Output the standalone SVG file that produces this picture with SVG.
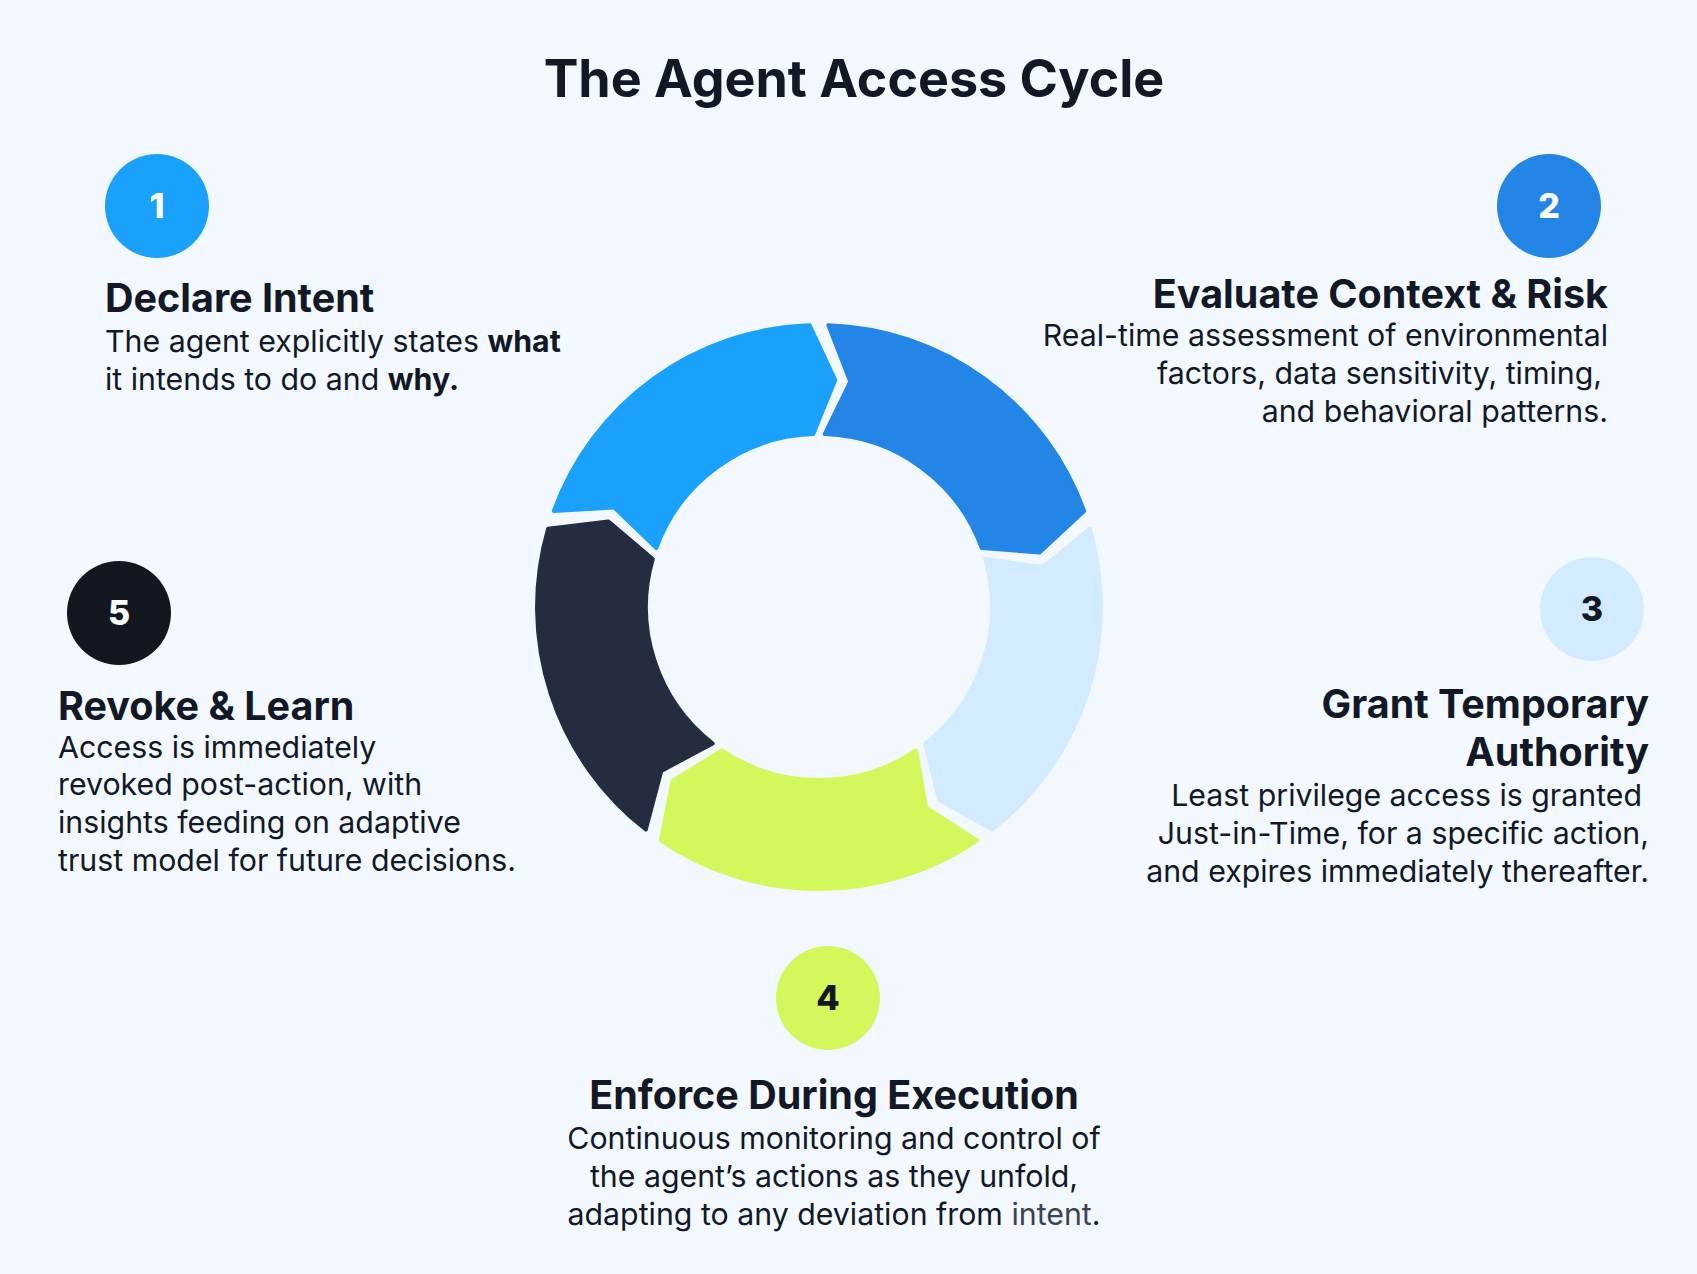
<svg xmlns="http://www.w3.org/2000/svg" width="1697" height="1274" viewBox="0 0 1697 1274">
<style>
.t{font-family:Inter,"Open Sans",sans-serif;fill:#121826}
.h{font-size:39.5px;font-weight:700}
.b{font-size:30.3px;font-weight:400}
.n{font-family:Inter,sans-serif;font-size:34px;font-weight:800;text-anchor:middle}
.seg{stroke-linejoin:round;stroke-width:4}
</style>
<rect width="1697" height="1274" fill="#F3F8FE"/>
<text class="t" x="854" y="97" text-anchor="middle" font-size="52" font-weight="700">The Agent Access Cycle</text>
<g id="cycle">
<path id="seg1" class="seg" fill="#1AA1FB" stroke="#1AA1FB" d="M553.8,511 A282,282 0 0 1 809.6,325.2 L835.3,380.1 L813.3,434.1 A173,173 0 0 0 656.3,548.1 L614.3,507.6 Z"/>
<path id="seg2" class="seg" fill="#2386E6" stroke="#2386E6" d="M828.4,325.2 A282,282 0 0 1 1084.2,511 L1039.8,552.4 L981.7,548.1 A173,173 0 0 0 824.7,434.1 L850.3,381.7 Z"/>
<path id="seg3" class="seg" fill="#D2EBFE" stroke="#D2EBFE" d="M1089.9,528.8 A282,282 0 0 1 992.2,829.5 L939.2,800.1 L925.3,743.5 A173,173 0 0 0 985.2,559 L1043,567.1 Z"/>
<path id="seg4" class="seg" fill="#D4F85B" stroke="#D4F85B" d="M977.1,840.5 A282,282 0 0 1 660.9,840.5 L672.5,781 L722,750.3 A173,173 0 0 0 916,750.3 L926.2,807.7 Z"/>
<path id="seg5" class="seg" fill="#232D3F" stroke="#232D3F" d="M645.8,829.5 A282,282 0 0 1 548.1,528.8 L608.2,521.4 L652.8,559 A173,173 0 0 0 712.7,743.5 L661.3,770.9 Z"/>
</g>
<g id="n1"><circle cx="157" cy="206" r="52" fill="#1AA1FB"/><text class="n" x="157" y="218" fill="#fff">1</text>
<text class="t h" x="105" y="312">Declare Intent</text>
<text class="t b" x="105" y="352">The agent explicitly states <tspan font-weight="700">what</tspan></text>
<text class="t b" x="105" y="390">it intends to do and <tspan font-weight="700">why.</tspan></text></g>
<g id="n2"><circle cx="1549" cy="206" r="52" fill="#2386E6"/><text class="n" x="1549" y="218" fill="#fff">2</text>
<text class="t h" x="1608" y="308" text-anchor="end">Evaluate Context &amp; Risk</text>
<text class="t b" text-anchor="end" x="1608" y="346">Real-time assessment of environmental</text>
<text class="t b" text-anchor="end" x="1602" y="384">factors, data sensitivity, timing,</text>
<text class="t b" text-anchor="end" x="1608" y="422">and behavioral patterns.</text></g>
<g id="n3"><circle cx="1592" cy="609" r="52" fill="#D2EBFE"/><text class="n" x="1592" y="621" fill="#121826">3</text>
<text class="t h" x="1649" y="718" text-anchor="end">Grant Temporary</text>
<text class="t h" x="1649" y="766" text-anchor="end">Authority</text>
<text class="t b" text-anchor="end" x="1642" y="806">Least privilege access is granted</text>
<text class="t b" text-anchor="end" x="1649" y="844">Just-in-Time, for a specific action,</text>
<text class="t b" text-anchor="end" x="1649" y="882">and expires immediately thereafter.</text></g>
<g id="n4"><circle cx="828" cy="998" r="52" fill="#D4F85B"/><text class="n" x="828" y="1010" fill="#121826">4</text>
<text class="t h" x="834" y="1109" text-anchor="middle">Enforce During Execution</text>
<text class="t b" text-anchor="middle" x="834" y="1149">Continuous monitoring and control of</text>
<text class="t b" text-anchor="middle" x="834" y="1187">the agent’s actions as they unfold,</text>
<text class="t b" text-anchor="middle" x="834" y="1225">adapting to any deviation from <tspan fill="#3a4356">intent</tspan>.</text></g>
<g id="n5"><circle cx="119" cy="613" r="52" fill="#121720"/><text class="n" x="119" y="625" fill="#fff">5</text>
<text class="t h" x="58" y="720">Revoke &amp; Learn</text>
<text class="t b" x="58" y="758">Access is immediately</text>
<text class="t b" x="58" y="795">revoked post-action, with</text>
<text class="t b" x="58" y="833">insights feeding on adaptive</text>
<text class="t b" x="58" y="871">trust model for future decisions.</text></g>
</svg>
